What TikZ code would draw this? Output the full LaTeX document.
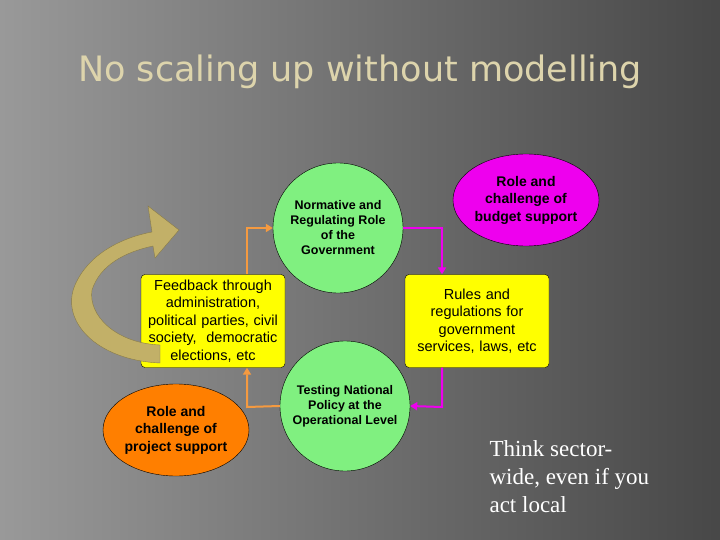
\documentclass[tikz,border=0pt]{standalone}
\usepackage{fontspec}
\setmainfont{Liberation Serif}
\newfontfamily\arialf{Liberation Sans}
\newfontfamily\titlef{DejaVu Sans}
\usetikzlibrary{shapes.geometric,arrows.meta}
\definecolor{cgreen}{HTML}{80F080}
\definecolor{cmag}{HTML}{EE00EE}
\definecolor{cyel}{HTML}{FFFF00}
\definecolor{corange}{HTML}{FF7F00}
\definecolor{arrorange}{HTML}{F59A40}
\definecolor{olive}{HTML}{C2B068}
\tikzset{
  circ/.style={circle,draw=black,fill=cgreen,minimum size=130pt,align=center,font=\arialf\bfseries\fontsize{12.5}{15}\selectfont,inner sep=0pt},
  ybox/.style={rectangle,rounded corners=4pt,draw=black,fill=cyel,minimum width=144pt,minimum height=93pt,text width=144pt,align=center,font=\arialf\fontsize{14.5}{17.5}\selectfont,inner sep=0pt},
  ell/.style={ellipse,draw=black,minimum width=146pt,minimum height=92pt,align=center,font=\arialf\bfseries\fontsize{14}{17.5}\selectfont,inner sep=0pt},
  oconn/.style={draw=arrorange,line width=2pt,-{Triangle[length=7pt,width=8pt]}},
  mconn/.style={draw=cmag,line width=2pt,-{Triangle[length=7pt,width=8pt]}}
}
\begin{document}
\begin{tikzpicture}[x=1pt,y=-1pt]
\useasboundingbox (0,0) rectangle (720,540);
\shade[left color=black!40,right color=black!72] (0,0) rectangle (720,540);
\node[font=\titlef\fontsize{35}{40}\selectfont,text=olive!55!white] (title) at (360,72) {No scaling up without modelling};
\node[circ] (norm) at (338,228) {Normative and\\Regulating Role\\of the\\Government};
\node[circ] (test) at (345,406) {Testing National\\Policy at the\\Operational Level};
\node[ell,fill=cmag] (budget) at (526,200) {Role and\\challenge of\\budget support};
\node[ell,fill=corange] (project) at (176,430) {Role and\\challenge of\\project support};
\node[ybox] (feed) at (213,321) {Feedback through\\administration,\\political parties, civil\\society,\ \ democratic\\elections, etc};
\node[ybox] (rules) at (477,321) {Rules and\\regulations for\\government\\services, laws, etc};
\coordinate (c1) at (247,228);
\coordinate (c2) at (247,407);
\coordinate (c3) at (442,228);
\coordinate (c4) at (442,407);
\draw[oconn] (feed.north -| c1) -- (c1) -- (norm.west);
\draw[oconn] (test.west) -- (c2) -- (feed.south -| c2);
\draw[mconn] (norm.east) -- (c3) -- (rules.north -| c3);
\draw[mconn] (rules.south -| c4) -- (c4) -- (test.east);
\fill[olive,draw=olive!70!black,line width=0.4pt] (160,363) .. controls (95,360) and (60,320) .. (75,285)
  .. controls (88,255) and (120,238) .. (152,232) -- (148,206) -- (179,230) -- (155,258) -- (153,246)
  .. controls (125,252) and (100,265) .. (92,290) .. controls (88,315) and (115,343) .. (160,345) -- cycle;
\node[anchor=north west,align=left,text=white,font=\fontsize{23}{28}\selectfont] (think) at (486,437) {Think sector-\\wide, even if you\\act local};
\end{tikzpicture}
\end{document}
